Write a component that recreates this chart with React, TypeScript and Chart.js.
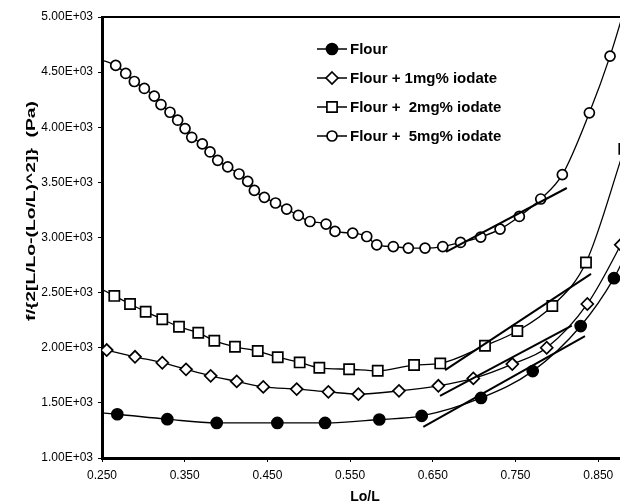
import React, { useEffect, useRef } from 'react';
import { Chart, registerables } from 'chart.js';

Chart.register(...registerables);

const xTicks = [0.25, 0.35, 0.45, 0.55, 0.65, 0.75, 0.85];
const yTicks = [1000, 1500, 2000, 2500, 3000, 3500, 4000, 4500, 5000];
const xMin = 0.25;
const xMax = 0.886;
const yMin = 1000;
const yMax = 5000;

const xTitle = 'Lo/L';
const yTitle = 'f/{2[L/Lo-(Lo/L)^2]}  (Pa)';
const seriesNames = ['Flour', 'Flour + 1mg% iodate', 'Flour +  2mg% iodate', 'Flour +  5mg% iodate'];

const flourX = [0.2685, 0.329, 0.3887, 0.462, 0.5197, 0.5853, 0.6366, 0.7083, 0.7708, 0.8288, 0.869];
const flourY = [1397, 1352, 1318, 1318, 1318, 1349, 1382, 1545, 1788, 2197, 2631];
const flourLineStart = [0.25, 1409];
const flourLineEnd = [0.886, 2890];

const iod1X = [0.2557, 0.2899, 0.3229, 0.3516, 0.3814, 0.4129, 0.445, 0.4854, 0.5237, 0.56, 0.6091, 0.6567, 0.699, 0.7461, 0.7877, 0.8368, 0.8772];
const iod1Y = [1979, 1918, 1864, 1804, 1745, 1695, 1645, 1625, 1600, 1579, 1609, 1655, 1722, 1852, 2000, 2397, 2934];
const iod1LineStart = [0.25, 1990];
const iod1LineEnd = [0.888, 3100];

const iod2X = [0.2649, 0.2839, 0.3028, 0.3229, 0.3431, 0.3664, 0.3858, 0.4108, 0.4383, 0.4625, 0.489, 0.5128, 0.5488, 0.5834, 0.6273, 0.659, 0.7131, 0.7522, 0.7945, 0.8352, 0.8816];
const iod2Y = [2470, 2397, 2327, 2258, 2191, 2136, 2064, 2009, 1970, 1914, 1867, 1818, 1805, 1791, 1843, 1858, 2018, 2152, 2379, 2773, 3804];
const iod2LineStart = [0.25, 2530];

const iod5X = [0.2666, 0.2787, 0.2891, 0.3012, 0.3132, 0.3213, 0.3322, 0.3415, 0.3504, 0.3585, 0.3713, 0.3806, 0.3899, 0.402, 0.4157, 0.4262, 0.4342, 0.4463, 0.4598, 0.4733, 0.4874, 0.5015, 0.5209, 0.5317, 0.5531, 0.5701, 0.5822, 0.6022, 0.6204, 0.6406, 0.662, 0.6835, 0.7079, 0.7313, 0.7546, 0.7805, 0.8066, 0.8393, 0.8643];
const iod5Y = [4561, 4488, 4415, 4352, 4282, 4206, 4136, 4064, 3988, 3909, 3849, 3776, 3700, 3640, 3576, 3509, 3427, 3364, 3313, 3258, 3200, 3145, 3122, 3055, 3040, 3009, 2934, 2918, 2904, 2904, 2918, 2955, 3004, 3076, 3191, 3349, 3570, 4131, 4645];
const iod5LineStart = [0.25, 4610];
const iod5LineEnd = [0.886, 5180];

const flourTangentX = [0.6385, 0.834];
const flourTangentY = [1282, 2106];
const iod1TangentX = [0.6587, 0.818];
const iod1TangentY = [1564, 2200];
const iod2TangentX = [0.6648, 0.8413];
const iod2TangentY = [1797, 2670];
const iod5TangentX = [0.666, 0.812];
const iod5TangentY = [2870, 3449];

const FONT = "'Liberation Sans', Arial, Helvetica, sans-serif";

function buildPoints(xs: number[], ys: number[], start?: number[], end?: number[]) {
  const pts: { x: number; y: number }[] = [];
  const radii: number[] = [];
  if (start) { pts.push({ x: start[0], y: start[1] }); radii.push(0); }
  xs.forEach((x, i) => { pts.push({ x, y: ys[i] }); radii.push(1); });
  if (end) { pts.push({ x: end[0], y: end[1] }); radii.push(0); }
  return { pts, radii };
}

type Marker = { style: string; fill: string; r: number };
const markers: Marker[] = [
  { style: 'circle', fill: '#000000', r: 5.5 },
  { style: 'rectRot', fill: '#ffffff', r: 6 },
  { style: 'rect', fill: '#ffffff', r: 7.2 },
  { style: 'circle', fill: '#ffffff', r: 5 },
];

function drawMarker(ctx: CanvasRenderingContext2D, m: Marker, x: number, y: number) {
  ctx.save();
  ctx.fillStyle = m.fill;
  ctx.strokeStyle = '#000';
  ctx.lineWidth = 1.7;
  ctx.beginPath();
  if (m.style === 'circle') {
    ctx.arc(x, y, m.r, 0, Math.PI * 2);
  } else if (m.style === 'rect') {
    const s = m.r * Math.SQRT1_2;
    ctx.rect(x - s, y - s, 2 * s, 2 * s);
  } else {
    ctx.moveTo(x, y - m.r);
    ctx.lineTo(x + m.r, y);
    ctx.lineTo(x, y + m.r);
    ctx.lineTo(x - m.r, y);
    ctx.closePath();
  }
  ctx.fill();
  ctx.stroke();
  ctx.restore();
}

const framePlugin = {
  id: 'frameAndLegend',
  afterDraw(chart: any) {
    const { ctx, chartArea } = chart;
    ctx.save();
    ctx.strokeStyle = '#000';
    ctx.lineWidth = 2;
    ctx.beginPath();
    ctx.moveTo(chartArea.left, chartArea.top);
    ctx.lineTo(chartArea.right, chartArea.top);
    ctx.stroke();

    // y-axis title (stretched along its length as in the original)
    ctx.save();
    ctx.translate(chartArea.left - 70, chartArea.top + 194);
    ctx.rotate(-Math.PI / 2);
    ctx.font = `bold 12px ${FONT}`;
    const w = ctx.measureText(yTitle).width;
    ctx.scale(220 / w, 1);
    ctx.fillStyle = '#000';
    ctx.textAlign = 'center';
    ctx.textBaseline = 'middle';
    ctx.fillText(yTitle, 0, 0);
    ctx.restore();

    const lx = chartArea.left + 215;
    const ly = chartArea.top + 32;
    seriesNames.forEach((name, i) => {
      const y = ly + i * 29;
      ctx.strokeStyle = '#000';
      ctx.lineWidth = 1.5;
      ctx.beginPath();
      ctx.moveTo(lx, y);
      ctx.lineTo(lx + 30, y);
      ctx.stroke();
      drawMarker(ctx, markers[i], lx + 15, y);
      ctx.fillStyle = '#000';
      ctx.font = `bold 15px ${FONT}`;
      ctx.textAlign = 'left';
      ctx.textBaseline = 'middle';
      ctx.fillText(name, lx + 33, y + 1);
    });
    ctx.restore();
  },
};

function fmtExp(v: number) {
  const [m, e] = v.toExponential(2).split('e');
  const sign = e[0];
  const digits = e.slice(1).padStart(2, '0');
  return `${m}E${sign}${digits}`;
}

export default function App() {
  const ref = useRef<HTMLCanvasElement>(null);
  useEffect(() => {
    if (!ref.current) return;
    Chart.defaults.font.family = FONT;
    Chart.defaults.color = '#000';

    const s0 = buildPoints(flourX, flourY, flourLineStart, flourLineEnd);
    const s1 = buildPoints(iod1X, iod1Y, iod1LineStart, iod1LineEnd);
    const s2 = buildPoints(iod2X, iod2Y, iod2LineStart);
    const s3 = buildPoints(iod5X, iod5Y, iod5LineStart, iod5LineEnd);
    const series = [s0, s1, s2, s3];

    const tangents = [
      [flourTangentX, flourTangentY],
      [iod1TangentX, iod1TangentY],
      [iod2TangentX, iod2TangentY],
      [iod5TangentX, iod5TangentY],
    ].map(([xs, ys], i) => ({
      label: `tangent ${i}`,
      data: xs.map((x, j) => ({ x, y: ys[j] })),
      showLine: true,
      borderColor: '#000',
      borderWidth: 2,
      pointRadius: 0,
      tension: 0,
    }));

    const dataDatasets = series.map((s, i) => ({
      label: seriesNames[i],
      data: s.pts,
      showLine: true,
      borderColor: '#000',
      borderWidth: 1.3,
      cubicInterpolationMode: 'monotone' as const,
      pointStyle: markers[i].style,
      pointRadius: s.radii.map((r) => r * markers[i].r),
      pointHoverRadius: s.radii.map((r) => r * markers[i].r),
      pointBackgroundColor: markers[i].fill,
      pointBorderColor: '#000',
      pointBorderWidth: 1.7,
    }));

    const chart = new Chart(ref.current, {
      type: 'scatter',
      data: { datasets: [...tangents, ...dataDatasets] as any },
      options: {
        animation: false,
        responsive: false,
        layout: { autoPadding: false, padding: { top: 9, right: 0, left: 0, bottom: -3 } },
        plugins: { legend: { display: false }, tooltip: { enabled: false } },
        scales: {
          x: {
            type: 'linear',
            min: xMin,
            max: xMax,
            afterBuildTicks: (scale: any) => { scale.ticks = xTicks.map((v) => ({ value: v })); },
            afterFit: (scale: any) => { scale.height = 48; scale.paddingRight = 0; scale.paddingLeft = 0; },
            ticks: {
              callback: (v: any) => Number(v).toFixed(3),
              font: { size: 12 },
              padding: 6,
              maxRotation: 0,
              autoSkip: false,
            },
            grid: { display: true, drawOnChartArea: false, drawTicks: true, tickLength: 4, color: '#000', lineWidth: 1 },
            border: { display: true, color: '#000', width: 3 },
            title: { display: true, text: xTitle, font: { size: 14, weight: 'bold' }, padding: { top: 8, bottom: 0 } },
          },
          y: {
            type: 'linear',
            min: yMin,
            max: yMax,
            afterBuildTicks: (scale: any) => { scale.ticks = yTicks.map((v) => ({ value: v })); },
            afterFit: (scale: any) => { scale.width = 94; scale.paddingTop = 0; scale.paddingBottom = 0; },
            ticks: {
              callback: (v: any) => fmtExp(Number(v)),
              font: { size: 12 },
              padding: 5,
              autoSkip: false,
            },
            grid: { display: true, drawOnChartArea: false, drawTicks: true, tickLength: 4, color: '#000', lineWidth: 1 },
            border: { display: true, color: '#000', width: 3 },
            title: { display: false },
          },
        },
      } as any,
      plugins: [framePlugin],
    });
    return () => chart.destroy();
  }, []);

  return (
    <div style={{ width: 620, height: 495 }}>
      <canvas ref={ref} width={620} height={495} />
    </div>
  );
}
